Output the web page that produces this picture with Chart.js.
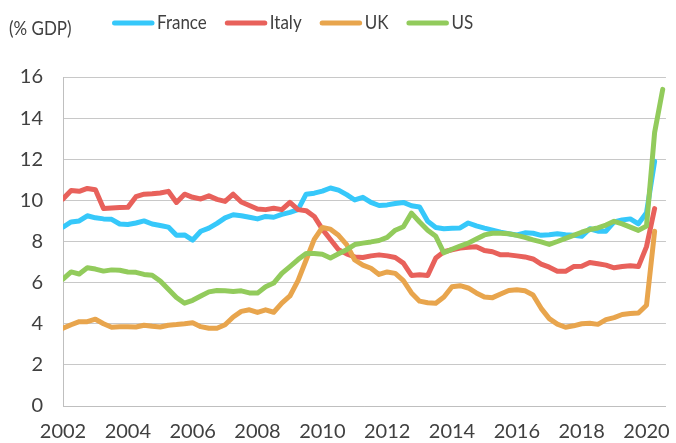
<!DOCTYPE html>
<html>
<head>
<meta charset="utf-8">
<script src="https://cdn.jsdelivr.net/npm/chart.js@4.4.1/dist/chart.umd.min.js"></script>
<style>
  html, body { margin: 0; padding: 0; background: #fff; }
  #wrap { width: 676px; height: 443px; }
</style>
</head>
<body>
<div id="wrap"><canvas id="chart" width="676" height="443"></canvas></div>
<script>
// quarterly data, 2002 Q1 onwards (% of GDP)
const startYear = 2002;
const seriesNames = ['France', 'Italy', 'UK', 'US'];
const seriesColors = ['#36C8FA', '#E8615B', '#E8A54D', '#92CB5C'];

const france = [8.7, 8.95, 9.0, 9.25, 9.15, 9.1, 9.08, 8.85, 8.83, 8.9,
  9.0, 8.85, 8.78, 8.7, 8.3, 8.32, 8.07, 8.5, 8.65, 8.88,
  9.15, 9.3, 9.25, 9.18, 9.1, 9.22, 9.18, 9.32, 9.42, 9.55,
  10.3, 10.35, 10.45, 10.6, 10.5, 10.28, 10.02, 10.15, 9.9, 9.75,
  9.78, 9.85, 9.9, 9.74, 9.68, 8.98, 8.68, 8.62, 8.64, 8.66,
  8.9, 8.76, 8.65, 8.55, 8.45, 8.38, 8.32, 8.42, 8.4, 8.3,
  8.33, 8.38, 8.33, 8.3, 8.25, 8.62, 8.5, 8.5, 8.95, 9.05,
  9.1, 8.86, 9.4, 11.9];
const italy = [10.07, 10.48, 10.44, 10.58, 10.52, 9.6, 9.63, 9.65, 9.66, 10.18,
  10.3, 10.32, 10.36, 10.44, 9.9, 10.3, 10.15, 10.07, 10.22, 10.05,
  9.95, 10.3, 9.92, 9.75, 9.58, 9.55, 9.62, 9.55, 9.9, 9.55,
  9.5, 9.22, 8.6, 8.1, 7.6, 7.4, 7.25, 7.22, 7.3, 7.35,
  7.3, 7.22, 6.95, 6.35, 6.38, 6.35, 7.2, 7.5, 7.6, 7.68,
  7.72, 7.75, 7.56, 7.5, 7.35, 7.35, 7.3, 7.25, 7.15, 6.9,
  6.75, 6.55, 6.55, 6.78, 6.8, 6.98, 6.92, 6.85, 6.72, 6.78,
  6.82, 6.78, 7.75, 9.6];
const uk = [3.78, 3.95, 4.1, 4.1, 4.22, 4.0, 3.83, 3.85, 3.86, 3.84,
  3.93, 3.88, 3.84, 3.93, 3.96, 4.0, 4.05, 3.86, 3.78, 3.78,
  3.95, 4.33, 4.6, 4.68, 4.55, 4.68, 4.56, 5.0, 5.35, 6.1,
  7.1, 8.1, 8.68, 8.6, 8.3, 7.85, 7.1, 6.85, 6.7, 6.4,
  6.52, 6.45, 6.1, 5.5, 5.1, 5.02, 5.0, 5.3, 5.8, 5.85,
  5.74, 5.5, 5.3, 5.27, 5.45, 5.62, 5.65, 5.6, 5.4, 4.75,
  4.25, 3.98, 3.83, 3.9, 4.0, 4.02, 3.97, 4.2, 4.3, 4.45,
  4.5, 4.52, 4.9, 8.5];
const us = [6.17, 6.52, 6.42, 6.72, 6.66, 6.56, 6.62, 6.6, 6.52, 6.5,
  6.4, 6.36, 6.08, 5.68, 5.28, 5.0, 5.14, 5.35, 5.55, 5.62,
  5.6, 5.57, 5.6, 5.5, 5.49, 5.8, 5.98, 6.45, 6.78, 7.12,
  7.42, 7.42, 7.38, 7.2, 7.4, 7.6, 7.85, 7.92, 7.98, 8.05,
  8.2, 8.55, 8.72, 9.38, 8.95, 8.55, 8.25, 7.45, 7.62, 7.78,
  7.92, 8.12, 8.32, 8.4, 8.4, 8.38, 8.3, 8.2, 8.08, 7.98,
  7.86, 8.0, 8.15, 8.3, 8.45, 8.58, 8.66, 8.8, 8.98, 8.86,
  8.7, 8.54, 8.75, 13.3, 15.4];

const tickYears = [2002, 2004, 2006, 2008, 2010, 2012, 2014, 2016, 2018, 2020];
const yTicks = [0, 2, 4, 6, 8, 10, 12, 14, 16];
const unitLabel = '(% GDP)';

const textColor = '#404040';
Chart.defaults.font.family = 'Lato, "Open Sans", sans-serif';
Chart.defaults.color = textColor;

// turn a quarterly series into {x: year, y: value} points
function toPoints(values){
	return values.map((v, i) => ({ x: startYear + i / 4, y: v }));
}

const allSeries = [france, italy, uk, us];
const datasets = allSeries.map((values, i) => ({
	label: seriesNames[i],
	data: toPoints(values),
	borderColor: seriesColors[i],
	backgroundColor: seriesColors[i],
	borderWidth: 5,
	borderCapStyle: 'round',
	borderJoinStyle: 'round',
	pointRadius: 0,
	tension: 0,
	order: allSeries.length - 1 - i // later series drawn on top
}));

// header text is a bit condensed in the original
const squeeze = 0.85;
function narrowText(ctx, text, x, y){
	ctx.save();
	ctx.translate(x, y);
	ctx.scale(squeeze, 1);
	ctx.fillText(text, 0, 0);
	ctx.restore();
	return ctx.measureText(text).width * squeeze;
}

// header: unit label on the left, line legend next to it
const headerPlugin = {
	id: 'header',
	afterDraw(chart){
		const ctx = chart.ctx;
		ctx.save();
		ctx.fillStyle = textColor;
		ctx.textBaseline = 'middle';
		ctx.font = '20px Lato';
		narrowText(ctx, unitLabel, 9, 29);

		let x = 112;
		const y = 23;
		chart.data.datasets.forEach(ds => {
			ctx.strokeStyle = ds.borderColor;
			ctx.lineWidth = 5;
			ctx.lineCap = 'round';
			ctx.beginPath();
			ctx.moveTo(x + 2.5, y);
			ctx.lineTo(x + 40, y);
			ctx.stroke();
			x += 45;
			x += narrowText(ctx, ds.label, x, y) + 18;
		});
		ctx.restore();
	}
};

new Chart(document.getElementById('chart'), {
	type: 'line',
	data: { datasets: datasets },
	options: {
		responsive: false,
		animation: false,
		layout: { padding: { top: 77, right: 9, left: 0, bottom: 0 } },
		plugins: {
			legend: { display: false },
			tooltip: { enabled: false }
		},
		scales: {
			x: {
				type: 'linear',
				min: 2002,
				max: 2020.6,
				afterBuildTicks: scale => { scale.ticks = tickYears.map(v => ({ value: v })); },
				afterFit: scale => { scale.height = 37; },
				grid: { display: false },
				border: { display: true, color: '#BFBFBF' },
				ticks: {
					padding: 6,
					font: { size: 20 },
					color: textColor,
					maxRotation: 0,
					callback: v => String(v)
				}
			},
			y: {
				min: 0,
				max: 16,
				afterBuildTicks: scale => { scale.ticks = yTicks.map(v => ({ value: v })); },
				afterFit: scale => { scale.width = 63; },
				grid: { color: '#C8C8C8', lineWidth: 1, drawTicks: false },
				border: { display: true, color: '#BFBFBF' },
				ticks: {
					padding: 20,
					font: { size: 20 },
					color: textColor
				}
			}
		}
	},
	plugins: [headerPlugin]
});
</script>
</body>
</html>
